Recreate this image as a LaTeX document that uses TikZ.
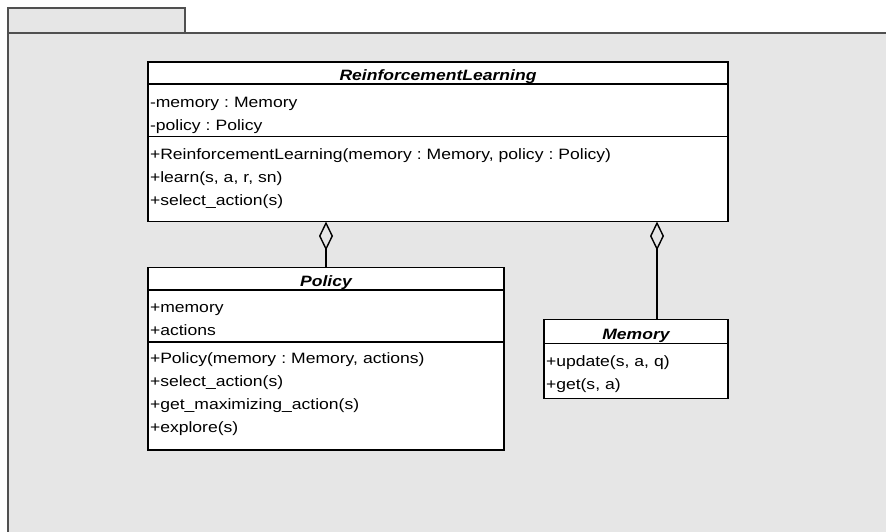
\documentclass[tikz,border=0pt]{standalone}
\usepackage{fontspec}
\setmainfont{Liberation Sans}[FakeStretch=1.17]
\usepackage{tikz}
\usetikzlibrary{positioning, arrows.meta}
\definecolor{pkgfill}{HTML}{E6E6E6}
\definecolor{pkgline}{HTML}{505050}
\tikzstyle{umlhead} = [draw, fill=white, line width=1.4pt, inner sep=0pt, outer sep=0pt, font=\fontsize{15}{23}\selectfont\bfseries\itshape]
\tikzstyle{umlpart} = [draw, fill=white, line width=1.4pt, inner xsep=2pt, inner ysep=0pt, outer sep=0pt, align=left, font=\fontsize{15}{23}\selectfont\frenchspacing]
\tikzstyle{aggr} = [line width=1.4pt, -{Diamond[open, length=29pt, width=14pt, line width=1.4pt]}]

\begin{document}
\begin{tikzpicture}[x=1pt, y=-1pt]
  \useasboundingbox (0,0) rectangle (886,532);
  \clip (0,0) rectangle (886,532);

  % Package frame
  \draw[pkgline, fill=pkgfill, line width=1.3pt] (8,8) rectangle (185,33);
  \draw[pkgline, fill=pkgfill, line width=1.3pt] (8,33) rectangle (900,545);

  % ReinforcementLearning
  \node[umlhead, anchor=north, minimum width=580pt, text height=19pt, text depth=3pt] (rlhead) at (438,62) {ReinforcementLearning};
  \node[umlpart, below=0pt of rlhead, text width=576pt, text height=24pt, text depth=28.5pt] (rlattr)
    {-memory : Memory\\-policy : Policy};
  \node[umlpart, below=0pt of rlattr, text width=576pt, text height=23pt, text depth=62pt] (rlmeth)
    {+ReinforcementLearning(memory : Memory, policy : Policy)\\+learn(s, a, r, sn)\\+select\_action(s)};

  % Policy
  \node[umlhead, anchor=north, minimum width=356pt, text height=19pt, text depth=3.5pt] (polhead) at (326,267.5) {Policy};
  \node[umlpart, below=0pt of polhead, text width=352pt, text height=22.5pt, text depth=29.5pt] (polattr)
    {+memory\\+actions};
  \node[umlpart, below=0pt of polattr, text width=352pt, text height=21.5pt, text depth=86.5pt] (polmeth)
    {+Policy(memory : Memory, actions)\\+select\_action(s)\\+get\_maximizing\_action(s)\\+explore(s)};

  % Memory
  \node[umlhead, anchor=north, minimum width=184pt, text height=20.5pt, text depth=3.6pt] (memhead) at (636,319.2) {Memory};
  \node[umlpart, below=0pt of memhead, text width=180pt, text height=23pt, text depth=32pt] (memmeth)
    {+update(s, a, q)\\+get(s, a)};

  % Aggregations
  \draw[aggr] (polhead.north) -- (polhead.north |- rlmeth.south);
  \draw[aggr] ([xshift=21pt]memhead.north) -- ([xshift=21pt]memhead.north |- rlmeth.south);
\end{tikzpicture}
\end{document}
